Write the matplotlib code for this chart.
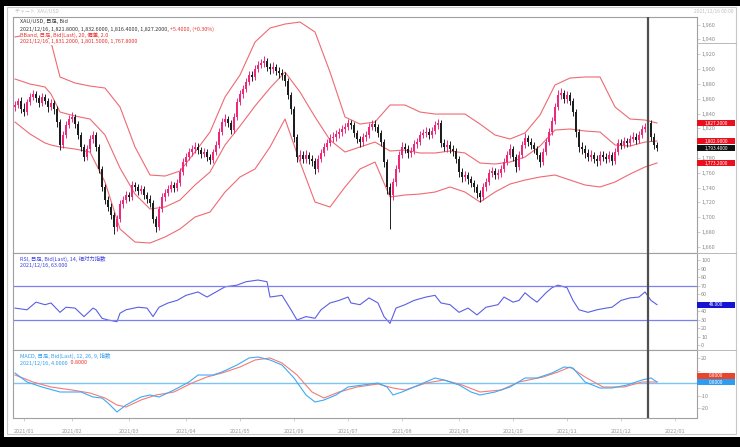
import numpy as np
import matplotlib.pyplot as plt
from matplotlib.patches import Rectangle
from matplotlib.lines import Line2D
from matplotlib.transforms import blended_transform_factory
from matplotlib.ticker import MultipleLocator, FuncFormatter

plt.rcParams['font.family'] = ['Noto Sans CJK JP', 'DejaVu Sans']

W, H = 740, 447

# daily candles, XAU/USD (close of each bar, open = previous close)
first_open = 1848.8
closes = [
    1851.5, 1856.9, 1846.1, 1842.0, 1855.5, 1862.3, 1866.3, 1860.9, 1854.2, 1862.3,
    1856.9, 1848.8, 1854.2, 1846.1, 1828.5, 1797.5, 1811.0, 1824.5, 1832.6, 1835.3,
    1825.8, 1811.0, 1794.8, 1781.3, 1792.1, 1805.6, 1811.0, 1794.8, 1765.1, 1740.8,
    1723.2, 1713.8, 1703.0, 1686.8, 1697.6, 1717.8, 1723.2, 1730.0, 1727.3, 1743.5,
    1740.8, 1735.4, 1738.1, 1730.0, 1724.6, 1719.2, 1697.6, 1686.8, 1711.1, 1727.3,
    1732.7, 1738.1, 1743.5, 1739.4, 1746.2, 1761.0, 1774.5, 1781.3, 1788.0, 1792.1,
    1794.8, 1790.7, 1785.3, 1788.0, 1781.3, 1777.2, 1788.0, 1797.5, 1815.0, 1828.5,
    1832.6, 1827.2, 1817.7, 1835.3, 1855.5, 1866.3, 1873.1, 1882.5, 1892.0, 1889.3,
    1900.1, 1905.5, 1908.2, 1910.9, 1902.8, 1900.1, 1902.8, 1897.4, 1894.7, 1892.0,
    1883.9, 1865.0, 1846.1, 1808.3, 1781.3, 1784.0, 1778.6, 1784.0, 1778.6, 1775.9,
    1765.1, 1778.6, 1786.7, 1794.8, 1800.2, 1806.9, 1808.3, 1812.3, 1815.0, 1819.1,
    1821.8, 1827.2, 1824.5, 1813.7, 1805.6, 1801.5, 1808.3, 1811.0, 1821.8, 1825.8,
    1821.8, 1813.7, 1801.5, 1774.5, 1740.8, 1730.0, 1747.5, 1765.1, 1784.0, 1794.8,
    1792.1, 1786.7, 1789.4, 1798.8, 1801.5, 1811.0, 1813.7, 1815.0, 1811.0, 1816.4,
    1824.5, 1827.2, 1800.2, 1794.8, 1797.5, 1792.1, 1789.4, 1778.6, 1761.0, 1754.3,
    1757.0, 1751.6, 1746.2, 1740.8, 1732.7, 1727.3, 1740.8, 1747.5, 1759.7, 1762.4,
    1757.0, 1759.7, 1765.1, 1774.5, 1784.0, 1792.1, 1781.3, 1767.8, 1784.0, 1797.5,
    1806.9, 1801.5, 1797.5, 1792.1, 1784.0, 1774.5, 1788.0, 1801.5, 1815.0, 1829.9,
    1848.8, 1865.0, 1867.7, 1859.6, 1865.0, 1856.9, 1842.0, 1815.0, 1794.8, 1792.1,
    1786.7, 1781.3, 1784.0, 1778.6, 1775.9, 1784.0, 1781.3, 1778.6, 1784.0, 1775.9,
    1788.0, 1800.2, 1797.5, 1802.9, 1800.2, 1805.6, 1808.3, 1804.2, 1811.0, 1819.1,
    1821.8, 1827.2, 1808.3, 1797.5, 1793.4,
]
upper_wick = [
    5.4, 4.1, 5.4, 8.1, 4.1, 5.4, 5.4, 4.1, 4.1, 5.4,
    4.1, 4.1, 5.4, 4.1, 4.1, 4.1, 5.4, 5.4, 5.4, 6.8,
    4.1, 4.1, 4.1, 4.1, 5.4, 5.4, 5.4, 4.1, 4.1, 4.1,
    4.1, 5.4, 5.4, 4.1, 5.4, 5.4, 5.4, 5.4, 4.1, 5.4,
    4.1, 4.1, 5.4, 4.1, 4.1, 5.4, 4.1, 4.1, 4.1, 5.4,
    5.4, 5.4, 5.4, 4.1, 5.4, 5.4, 5.4, 5.4, 5.4, 5.4,
    6.8, 5.4, 4.1, 5.4, 4.1, 4.1, 4.1, 5.4, 5.4, 5.4,
    6.8, 4.1, 4.1, 5.4, 5.4, 5.4, 5.4, 5.4, 5.4, 5.4,
    5.4, 5.4, 5.4, 6.8, 4.1, 5.4, 6.8, 4.1, 5.4, 5.4,
    4.1, 4.1, 4.1, 4.1, 4.1, 6.8, 5.4, 6.8, 4.1, 5.4,
    4.1, 5.4, 5.4, 5.4, 5.4, 5.4, 6.8, 5.4, 5.4, 5.4,
    5.4, 5.4, 4.1, 4.1, 4.1, 4.1, 5.4, 5.4, 5.4, 5.4,
    5.4, 4.1, 4.1, 4.1, 4.1, 5.4, 5.4, 5.4, 5.4, 6.8,
    5.4, 5.4, 5.4, 5.4, 5.4, 5.4, 5.4, 6.8, 5.4, 5.4,
    5.4, 5.4, 4.1, 5.4, 6.8, 5.4, 5.4, 4.1, 4.1, 5.4,
    5.4, 4.1, 4.1, 4.1, 4.1, 4.1, 5.4, 5.4, 5.4, 5.4,
    4.1, 5.4, 5.4, 5.4, 5.4, 6.8, 4.1, 4.1, 5.4, 5.4,
    6.8, 4.1, 5.4, 4.1, 4.1, 4.1, 5.4, 5.4, 5.4, 5.4,
    5.4, 6.8, 6.8, 4.1, 5.4, 4.1, 4.1, 4.1, 4.1, 6.8,
    5.4, 5.4, 6.8, 4.1, 5.4, 5.4, 5.4, 5.4, 5.4, 4.1,
    5.4, 5.4, 5.4, 5.4, 4.1, 5.4, 6.8, 5.4, 5.4, 5.4,
    5.4, 5.4, 4.1, 5.4, 4.1,
]
lower_wick = [
    5.4, 4.1, 5.4, 5.4, 4.1, 4.1, 4.1, 5.4, 5.4, 4.1,
    4.1, 6.8, 4.1, 6.8, 6.8, 6.8, 4.1, 4.1, 4.1, 4.1,
    5.4, 5.4, 5.4, 5.4, 4.1, 4.1, 5.4, 5.4, 5.4, 5.4,
    5.4, 5.4, 5.4, 9.5, 5.4, 4.1, 5.4, 4.1, 5.4, 4.1,
    5.4, 5.4, 4.1, 5.4, 5.4, 5.4, 5.4, 6.8, 4.1, 4.1,
    5.4, 4.1, 4.1, 5.4, 4.1, 4.1, 4.1, 5.4, 4.1, 5.4,
    5.4, 5.4, 5.4, 4.1, 5.4, 5.4, 4.1, 4.1, 4.1, 4.1,
    5.4, 5.4, 5.4, 4.1, 4.1, 4.1, 5.4, 4.1, 4.1, 5.4,
    4.1, 4.1, 4.1, 5.4, 5.4, 6.8, 5.4, 5.4, 6.8, 6.8,
    6.8, 5.4, 6.8, 6.8, 6.8, 5.4, 5.4, 5.4, 6.8, 6.8,
    6.8, 4.1, 4.1, 4.1, 4.1, 4.1, 5.4, 5.4, 5.4, 5.4,
    5.4, 4.1, 5.4, 5.4, 5.4, 6.8, 5.4, 5.4, 4.1, 4.1,
    5.4, 5.4, 5.4, 6.8, 9.5, 46.0, 6.8, 5.4, 4.1, 4.1,
    5.4, 6.8, 5.4, 4.1, 5.4, 4.1, 4.1, 5.4, 5.4, 4.1,
    4.1, 5.4, 5.4, 5.4, 6.8, 5.4, 6.8, 5.4, 6.8, 6.8,
    5.4, 6.8, 5.4, 6.8, 6.8, 6.8, 4.1, 5.4, 4.1, 5.4,
    5.4, 5.4, 5.4, 4.1, 4.1, 4.1, 5.4, 6.8, 4.1, 4.1,
    4.1, 5.4, 5.4, 5.4, 5.4, 6.8, 4.1, 4.1, 4.1, 4.1,
    4.1, 4.1, 5.4, 5.4, 5.4, 5.4, 5.4, 6.8, 6.8, 6.8,
    6.8, 5.4, 5.4, 5.4, 6.8, 5.4, 5.4, 5.4, 4.1, 5.4,
    4.1, 4.1, 5.4, 4.1, 5.4, 4.1, 4.1, 5.4, 4.1, 4.1,
    4.1, 5.4, 5.4, 5.4, 4.1,
]

bb_idx = [0, 5, 10, 12, 15, 20, 25, 30, 35, 40, 45, 50, 55, 60, 65, 70, 75, 80, 85, 90,
          95, 100, 105, 110, 115, 120, 125, 130, 135, 140, 145, 150, 155, 160, 165, 170,
          175, 180, 185, 190, 195, 200, 205, 210, 214]
bb_upper = [1943.3, 1947.3, 1948.7, 1936.5, 1889.3, 1881.2, 1877.1, 1874.4, 1848.8, 1794.8,
            1757.0, 1755.6, 1762.4, 1788.0, 1815.0, 1862.3, 1892.0, 1936.5, 1955.4, 1960.8,
            1963.5, 1950.0, 1896.0, 1835.3, 1825.8, 1828.5, 1851.5, 1851.5, 1842.0, 1839.3,
            1839.3, 1839.3, 1825.8, 1811.0, 1805.6, 1813.7, 1838.0, 1878.5, 1887.9, 1889.3,
            1889.3, 1848.8, 1832.6, 1831.2, 1827.2]
bb_middle = [1886.6, 1879.8, 1875.8, 1866.3, 1842.0, 1836.6, 1832.6, 1811.0, 1766.4, 1731.3,
             1711.1, 1713.8, 1723.2, 1743.5, 1761.0, 1797.5, 1823.1, 1850.1, 1874.4, 1896.0,
             1869.0, 1835.3, 1804.2, 1788.0, 1794.8, 1801.5, 1789.4, 1790.7, 1786.7, 1786.7,
             1789.4, 1786.7, 1773.2, 1771.8, 1774.5, 1781.3, 1796.1, 1817.7, 1819.1, 1816.4,
             1815.0, 1797.5, 1796.1, 1801.5, 1802.9]
bb_lower = [1828.5, 1812.3, 1800.2, 1797.5, 1794.8, 1792.1, 1788.0, 1747.5, 1684.1, 1666.5,
            1665.2, 1673.3, 1684.1, 1700.3, 1707.0, 1734.0, 1754.3, 1765.1, 1794.8, 1832.6,
            1774.5, 1720.5, 1713.8, 1740.8, 1765.1, 1774.5, 1727.3, 1730.0, 1731.3, 1734.0,
            1740.8, 1734.0, 1720.5, 1734.0, 1744.8, 1750.2, 1754.3, 1757.0, 1750.2, 1743.5,
            1740.8, 1747.5, 1758.3, 1767.8, 1773.2]

# RSI(14)
rsi_idx = [0, 4, 7, 10, 12, 15, 17, 20, 23, 26, 27, 29, 31, 34, 35, 37, 41, 44, 46, 48,
           51, 54, 57, 61, 64, 67, 70, 74, 77, 81, 84, 85, 89, 92, 94, 97, 100, 102, 105, 108,
           111, 112, 115, 118, 121, 123, 125, 127, 130, 133, 137, 140, 142, 145, 148, 151, 154, 157, 161, 163,
           166, 168, 170, 172, 174, 177, 179, 181, 184, 186, 188, 191, 194, 197, 199, 202, 205, 208, 210, 212,
           214]
rsi_vals = [44, 42, 51, 48, 50, 39, 45, 44, 34, 44, 42, 32, 30, 28, 38, 42, 45, 44, 34, 45,
            50, 53, 59, 63, 57, 63, 69, 71, 75, 77, 75, 57, 59, 42, 30, 34, 32, 42, 50, 53,
            57, 50, 48, 56, 50, 34, 26, 44, 48, 53, 57, 59, 50, 48, 39, 44, 36, 45, 48, 57,
            51, 53, 62, 56, 51, 62, 68, 71, 68, 53, 42, 39, 42, 44, 45, 53, 56, 57, 63, 53,
            48]

# MACD(12, 26, 9)
macd_idx = [0, 4, 9, 15, 22, 26, 29, 31, 34, 37, 42, 45, 48, 53, 58, 61, 66, 69, 74, 78,
            81, 85, 89, 93, 97, 100, 103, 107, 111, 116, 121, 124, 126, 129, 133, 140, 143, 148, 152, 155,
            160, 165, 170, 174, 179, 183, 186, 190, 195, 199, 204, 209, 212, 214]
macd_vals = [8.0, 0.8, -3.2, -7.2, -7.2, -11.2, -12.0, -16.0, -23.2, -17.6, -11.2, -9.6, -11.2, -5.6, 0.8, 6.4, 6.4, 8.8, 14.4, 20.0,
             20.8, 18.4, 14.4, 4.0, -9.6, -15.2, -13.6, -9.6, -3.2, -1.6, 0.0, -3.2, -9.6, -7.2, -3.2, 4.0, 2.4, -1.6, -7.2, -9.6,
             -7.2, -3.2, 4.0, 4.0, 8.0, 12.8, 12.0, 0.8, -4.0, -4.0, -1.6, 2.4, 4.0, 0.8]
signal_idx = [0, 6, 12, 19, 25, 30, 34, 37, 42, 47, 53, 59, 64, 69, 75, 80, 85, 89, 94, 99,
              103, 108, 114, 121, 126, 130, 137, 143, 149, 155, 162, 168, 176, 181, 185, 190, 196, 203, 209, 214]
signal_vals = [6.4, 0.8, -3.2, -5.6, -8.0, -12.0, -17.6, -19.2, -13.6, -9.6, -7.2, 0.0, 4.8, 8.0, 12.8, 18.4, 20.0, 16.0, 6.4, -7.2,
               -12.0, -7.2, -3.2, -0.8, -4.0, -5.6, 0.0, 2.4, -1.6, -7.2, -5.6, 0.8, 4.8, 8.8, 12.8, 4.8, -3.2, -3.2, 0.8, 0.8]

month_pos = [3, 19, 38, 57, 75, 93, 111, 129, 148, 166, 184, 202, 220]
month_labels = ['2021/01', '2021/02', '2021/03', '2021/04', '2021/05', '2021/06', '2021/07',
                '2021/08', '2021/09', '2021/10', '2021/11', '2021/12', '2022/01']
cursor = 211
cursor_date = '2021/12/16'

closes = np.array(closes)
opens = np.r_[first_open, closes[:-1]]
highs = np.maximum(opens, closes) + np.array(upper_wick)
lows = np.minimum(opens, closes) - np.array(lower_wick)
x = np.arange(len(closes))

PINK = '#f0287c'
DARK = '#1e1e1e'
BBCOL = '#ee6a72'
RSICOL = '#5b5fe3'
MACDCOL = '#3fa9f5'
SIGCOL = '#f27c76'
GRID = '#a0a0a0'


def fig_rect(x0, y0, x1, y1):
    # pixel box (from top-left) -> figure fraction
    return [x0 / W, 1 - y1 / H, (x1 - x0) / W, (y1 - y0) / H]


def near(idx, vals, i):
    return vals[int(np.argmin(np.abs(np.array(idx) - i)))]


def hidden_under(tag_values, fmt, tol):
    # tick labels that sit behind a value tag are not visible in the original
    def f(v, p):
        if any(abs(v - t) < tol for t in tag_values):
            return ''
        return fmt(v)
    return FuncFormatter(f)


fig = plt.figure(figsize=(7.4, 4.47), dpi=100, facecolor='black')
fig.patches.append(Rectangle((4 / W, 1 - 437 / H), 736 / W, 431 / H, transform=fig.transFigure,
                             facecolor='white', edgecolor='none', zorder=-2))
fig.patches.append(Rectangle((7 / W, 1 - 434 / H), 729 / W, 427 / H, transform=fig.transFigure,
                             facecolor='none', edgecolor='#c8c8c8', lw=0.8, zorder=-1))

ax = fig.add_axes(fig_rect(13, 17, 697, 253))
ax_rsi = fig.add_axes(fig_rect(13, 253, 697, 350), sharex=ax)
ax_macd = fig.add_axes(fig_rect(13, 350, 697, 418), sharex=ax)

for a in (ax, ax_rsi, ax_macd):
    for s in a.spines.values():
        s.set_color(GRID)
        s.set_linewidth(0.8)
    a.yaxis.tick_right()
    a.tick_params(axis='y', length=2, width=0.5, color='#bbbbbb', labelsize=4,
                  labelcolor='#8c8c8c', pad=1)
    a.axvline(cursor, color='#505050', lw=1.6, zorder=4)

# candles
col = np.where(closes >= opens, PINK, DARK)
ax.vlines(x, lows, highs, colors=col, lw=0.7, zorder=3)
ax.bar(x, np.abs(closes - opens), bottom=np.minimum(opens, closes), width=0.65,
       color=col, linewidth=0, zorder=3)

ax.plot(bb_idx, bb_upper, color=BBCOL, lw=0.8, zorder=2)
ax.plot(bb_idx, bb_middle, color=BBCOL, lw=0.8, zorder=2)
ax.plot(bb_idx, bb_lower, color=BBCOL, lw=0.8, zorder=2)

ax.set_xlim(-0.67, 227.33)
ax.set_ylim(1651.7, 1970.3)
ax.yaxis.set_major_locator(MultipleLocator(20))
ax.yaxis.set_major_formatter(hidden_under([bb_upper[-1], bb_middle[-1], closes[-1], bb_lower[-1]],
                                          lambda v: f'{v:,.0f}', 6))
ax.tick_params(axis='x', bottom=False, labelbottom=False)

# RSI
ax_rsi.plot(rsi_idx, rsi_vals, color=RSICOL, lw=0.8)
ax_rsi.axhline(70, color='#7b7ff0', lw=0.9)
ax_rsi.axhline(30, color='#7b7ff0', lw=0.9)
ax_rsi.set_ylim(-5.3, 108.8)
ax_rsi.yaxis.set_major_locator(MultipleLocator(10))
ax_rsi.yaxis.set_major_formatter(hidden_under([rsi_vals[-1]], lambda v: f'{v:.0f}', 5))
ax_rsi.tick_params(axis='x', bottom=False, labelbottom=False)

# MACD
mh = (26.4 + 28.0) * 6.5 / 68
ax_macd.axhline(0, color='#7cc4f4', lw=1.0)
ax_macd.plot(signal_idx, signal_vals, color=SIGCOL, lw=0.8)
ax_macd.plot(macd_idx, macd_vals, color=MACDCOL, lw=0.8)
ax_macd.set_ylim(-28.0, 26.4)
ax_macd.set_yticks([-20, -10, 0, 10, 20])
ax_macd.yaxis.set_major_formatter(hidden_under([macd_vals[-1], macd_vals[-1] + mh],
                                               lambda v: f'{v:.0f}', 5))
ax_macd.set_xticks(month_pos)
ax_macd.set_xticklabels(month_labels)
ax_macd.tick_params(axis='x', length=2, width=0.5, color='#bbbbbb', labelsize=4,
                    labelcolor='#9a9a9a', pad=6)


def tag(a, value, text, fc, h_px=6, w_px=38):
    y0, y1 = a.get_ylim()
    pos = a.get_position()
    h = (y1 - y0) * h_px / (pos.height * H)
    w = w_px / (pos.width * W)
    tr = blended_transform_factory(a.transAxes, a.transData)
    a.add_patch(Rectangle((1.0, value - h / 2), w, h, transform=tr, facecolor=fc,
                          edgecolor='none', clip_on=False, zorder=6))
    a.text(1.0 + w / 2, value, text, transform=tr, ha='center', va='center',
           fontsize=3.4, color='white', clip_on=False, zorder=7)


tag(ax, bb_upper[-1], f'{bb_upper[-1]:,.4f}', '#e8101e')
tag(ax, bb_middle[-1], f'{bb_middle[-1]:,.4f}', '#e8101e')
tag(ax, closes[-1], f'{closes[-1]:,.4f}', '#111111')
tag(ax, bb_lower[-1], f'{bb_lower[-1]:,.4f}', '#e8101e')
tag(ax_rsi, rsi_vals[-1], f'{rsi_vals[-1]:.3f}', '#1414d2')
tag(ax_macd, macd_vals[-1], f'{macd_vals[-1]:.4f}', '#2f9cf0')
tag(ax_macd, macd_vals[-1] + mh, f'{signal_vals[-1]:.4f}', '#e8452a')

# separators in the price-label column
for yy in (43, 253, 350):
    fig.add_artist(Line2D([697 / W, 736 / W], [1 - yy / H, 1 - yy / H], color='#b8b8b8', lw=0.7))

# legends
fs = 3.9
wb = dict(facecolor='white', edgecolor='none', pad=0.3)


def ftext(px, py, s, color, **kw):
    return fig.text(px / W, 1 - py / H, s, color=color, fontsize=fs, va='center', bbox=wb, **kw)


o, hh, ll, c = opens[cursor], highs[cursor], lows[cursor], closes[cursor]
chg = c - closes[cursor - 1]
ftext(20, 22, 'XAU/USD, 日足, Bid', '#333333')
t = ftext(20, 29, f'{cursor_date}, {o:,.4f}, {hh:,.4f}, {ll:,.4f}, {c:,.4f}, ', '#333333')
fig.add_artist(plt.Annotation(f'{chg:+.4f}, ({chg / closes[cursor - 1] * 100:+.2f}%)',
                              xy=(1, 0.5), xycoords=t, va='center', ha='left',
                              color='#e8302a', fontsize=fs))
ftext(20, 35, 'BBand, 日足, Bid(Last), 20, 偏差, 2.0', '#e8302a')
ftext(20, 42, f'{cursor_date}, {near(bb_idx, bb_upper, cursor):,.4f}, '
              f'{near(bb_idx, bb_middle, cursor):,.4f}, {near(bb_idx, bb_lower, cursor):,.4f}', '#e8302a')

ftext(20, 259, 'RSI, 日足, Bid(Last), 14, 相対力指数', '#3a3ee0')
ftext(20, 266, f'{cursor_date}, {near(rsi_idx, rsi_vals, cursor):.3f}', '#3a3ee0')

ftext(20, 356, 'MACD, 日足, Bid(Last), 12, 26, 9, 指数', '#2f9cf0')
t2 = ftext(20, 363, f'{cursor_date}, {near(macd_idx, macd_vals, cursor):.4f}', '#2f9cf0')
fig.add_artist(plt.Annotation(f'  {near(signal_idx, signal_vals, cursor):.4f}', xy=(1, 0.5),
                              xycoords=t2, va='center', ha='left', color='#e8302a', fontsize=fs))

# window header
fig.text(15 / W, 1 - 11 / H, 'チャート  XAU/USD', color='#c0c0c0', fontsize=3.6, va='center')
fig.text(733 / W, 1 - 11 / H, f'{cursor_date} 00:00', color='#c0c0c0', fontsize=3.6,
         va='center', ha='right')

fig.savefig('out.png', dpi=100, facecolor=fig.get_facecolor())
